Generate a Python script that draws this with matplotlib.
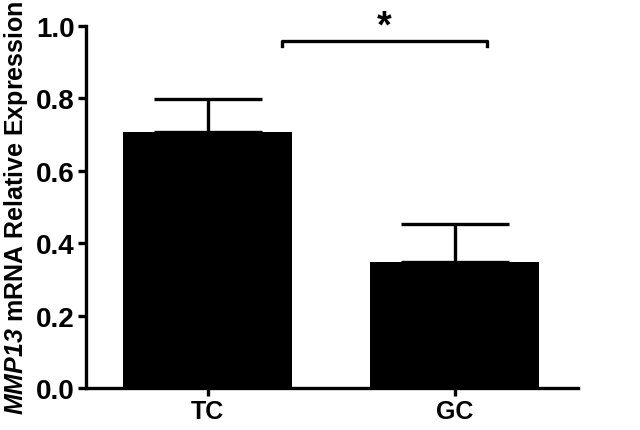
import numpy as np
import matplotlib.pyplot as plt

groups = ['TC', 'GC']
means = [0.707, 0.348]
sem = [0.091, 0.105]
y_ticks = [0.0, 0.2, 0.4, 0.6, 0.8, 1.0]
sig_pair = (0.30, 1.13)
sig_level = 0.96
sig_label = '*'

plt.rcParams['font.family'] = ['Liberation Sans', 'DejaVu Sans']
plt.rcParams['mathtext.fontset'] = 'custom'
plt.rcParams['mathtext.rm'] = 'Liberation Sans:italic:bold'
plt.rcParams['mathtext.it'] = 'Liberation Sans:italic:bold'

fig = plt.figure(figsize=(6.4, 4.31), dpi=100)
ax = fig.add_axes([0.134, 0.0974, 0.769, 0.8399])

x = np.arange(len(groups))
ax.bar(x, means, width=0.684, color='black', zorder=2)
ax.errorbar(x, means, yerr=[np.zeros(len(sem)), sem], fmt='none',
            ecolor='black', elinewidth=2.4, capsize=39, capthick=2.4, zorder=1)

# significance bracket
x1, x2 = sig_pair
ax.plot([x1, x1, x2, x2], [sig_level - 0.015, sig_level, sig_level, sig_level - 0.015],
        color='black', lw=2.4, clip_on=False)
ax.text((x1 + x2) / 2, sig_level - 0.01, sig_label, ha='center', va='bottom',
        fontsize=27, fontweight='bold', clip_on=False)

ax.set_xlim(-0.494, 1.498)
ax.set_ylim(0, 1.0)
ax.set_xticks(x)
ax.set_xticklabels(groups, fontsize=18, fontweight='bold')
ax.set_yticks(y_ticks)
ax.set_yticklabels([f'{v:.1f}' for v in y_ticks], fontsize=20, fontweight='bold')
ax.set_ylabel(r'$\mathrm{MMP13}$ mRNA Relative Expression', fontsize=18,
              fontweight='bold', labelpad=4)

for s in ['top', 'right']:
    ax.spines[s].set_visible(False)
for s in ['left', 'bottom']:
    ax.spines[s].set_linewidth(2.4)
ax.tick_params(width=2.4, length=6, direction='out', pad=2)

fig.savefig('out.png', dpi=100)
